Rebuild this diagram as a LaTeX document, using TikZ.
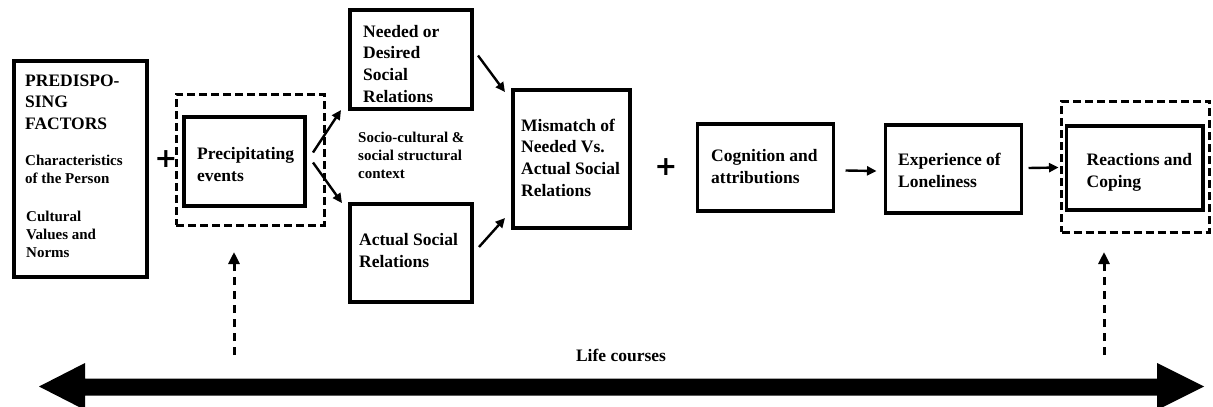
\documentclass[tikz,border=0pt]{standalone}
\usepackage{fontspec}
\setmainfont{Liberation Serif}
\newfontfamily\plusfont{DejaVu Sans}
\usetikzlibrary{calc,arrows.meta}
\begin{document}
\begin{tikzpicture}[x=1pt,y=-1pt,
  box/.style={draw,line width=3.8pt,inner sep=0pt,outer sep=0pt,anchor=north west},
  dbox/.style={draw,line width=3pt,dash pattern=on 8pt off 4pt,inner sep=0pt,outer sep=0pt,anchor=north west},
  % texts are placed by the baseline of their last line
  txt/.style={anchor=base west,inner sep=0pt,align=left,font=\bfseries\fontsize{17.5}{21.8}\selectfont},
  stxt/.style={anchor=base west,inner sep=0pt,align=left,font=\bfseries\fontsize{15}{18}\selectfont},
  plus/.style={inner sep=0pt,font=\plusfont\bfseries\fontsize{27}{27}\selectfont},
  arr/.style={line width=2.4pt,-{Triangle[length=9.5pt,width=9pt]}},
  darr/.style={line width=3pt,dash pattern=on 8pt off 6pt,-{Triangle[length=12pt,width=11pt]}}]
\useasboundingbox (0,0) rectangle (1213,407);
\fill[white] (0,0) rectangle (1213,407);

% boxes
\node[box,minimum width=133pt,minimum height=216pt] (pre) at (14,61) {};
\node[dbox,minimum width=148pt,minimum height=131pt] (precd) at (176,94) {};
\node[box,minimum width=121pt,minimum height=89pt] (prec) at (184,117) {};
\node[box,minimum width=122pt,minimum height=99pt] (need) at (350,10) {};
\node[box,minimum width=122pt,minimum height=98pt] (act) at (350,204) {};
\node[box,minimum width=117pt,minimum height=138pt] (mism) at (513,90) {};
\node[box,minimum width=136pt,minimum height=87pt] (cog) at (697.5,124) {};
\node[box,minimum width=136pt,minimum height=88pt] (exp) at (885.5,125) {};
\node[dbox,minimum width=148pt,minimum height=131pt] (reactd) at (1061.5,101) {};
\node[box,minimum width=136.5pt,minimum height=84pt] (react) at (1066.5,126) {};

% texts
\node[txt] (tpre) at (25,129.6) {PREDISPO-\\SING\\FACTORS};
\node[stxt] (tchar) at (25,183) {Characteristics\\of the Person};
\node[stxt] (tcult) at (26,257) {Cultural\\Values and\\Norms};
\node[txt] (tprec) at (197,181) {Precipitating\\events};
\node[txt] (tneed) at (363,102.4) {Needed or\\Desired\\Social\\Relations};
\node[stxt] (tsoc) at (358,178) {Socio-cultural \&\\social structural\\context};
\node[txt] (tact) at (359,267) {Actual Social\\Relations};
\node[txt] (tmism) at (521,196.4) {Mismatch of\\Needed Vs.\\Actual Social\\Relations};
\node[txt] (tcog) at (711,183) {Cognition and\\attributions};
\node[txt] (texp) at (898,187) {Experience of\\Loneliness};
\node[txt] (treact) at (1086.5,187) {Reactions and\\Coping};
\node[plus] (p1) at (166,159) {+};
\node[plus] (p2) at (666,167) {+};
\node[txt,anchor=base] (life) at (621,361) {Life courses};

% connectors
\draw[arr] ($(prec.east)+(8,-9)$) -- ($(need.south west)+(-9,1)$);
\draw[arr] ($(prec.east)+(8,1)$) -- ($(act.north west)+(-8,-1)$);
\draw[arr] ($(need.east)+(6,-4)$) -- ($(mism.north west)+(-8,2)$);
\draw[arr] ($(act.east)+(7,-6)$) -- ($(mism.south west)+(-8,-10)$);
\draw[arr] ($(cog.east)+(12,3)$) -- ($(exp.west)+(-9,2)$);
\draw[arr] ($(exp.east)+(7,-1)$) -- ($(reactd.west)+(-3,1)$);

% life course influences
\coordinate (lcA) at (234,355);
\coordinate (lcAt) at (234,252);
\coordinate (lcB) at (1104,355);
\coordinate (lcBt) at (1104,252);
\draw[darr] (lcA) -- (lcAt);
\draw[darr] (lcB) -- (lcBt);

% life course axis
\fill (39,386.5) -- (85,363) -- (85,378.5) -- (1157,378.5) -- (1157,363) -- (1204,386.5)
  -- (1157,410) -- (1157,395.5) -- (85,395.5) -- (85,410) -- cycle;
\end{tikzpicture}
\end{document}
